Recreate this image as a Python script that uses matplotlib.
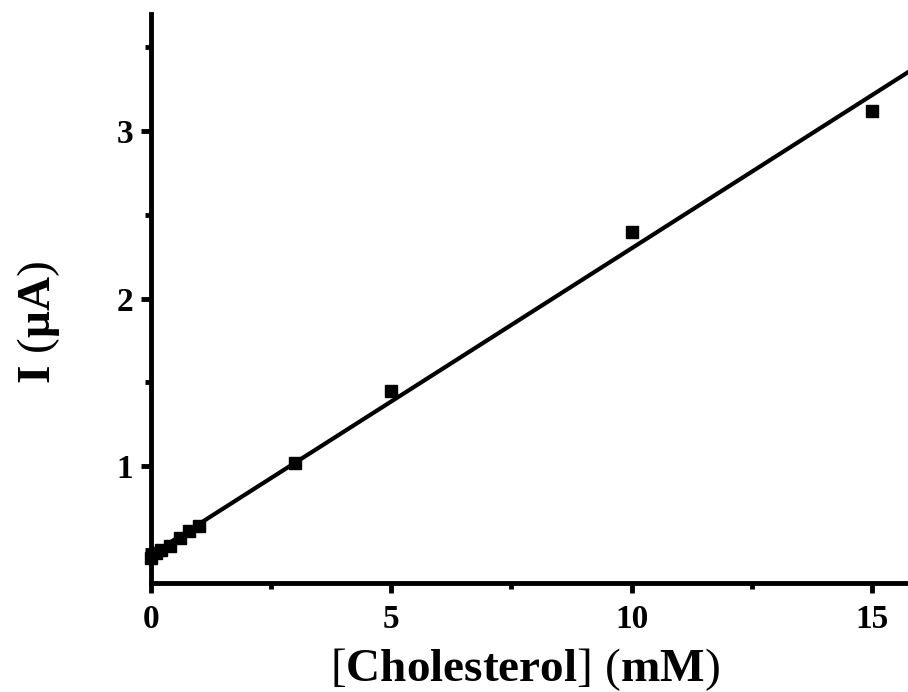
import numpy as np
import matplotlib
matplotlib.use("Agg")
import matplotlib.pyplot as plt
from matplotlib.ticker import MultipleLocator

conc = [0, 0.1, 0.2, 0.4, 0.6, 0.8, 1.0, 3, 5, 10, 15]
current = [0.45, 0.48, 0.50, 0.52, 0.57, 0.61, 0.64, 1.02, 1.45, 2.40, 3.12]
fit_slope = 0.183
fit_intercept = 0.47
xticks = [0, 5, 10, 15]
yticks = [1, 2, 3]

plt.rcParams['font.family'] = ['Liberation Serif', 'DejaVu Serif']
plt.rcParams['font.weight'] = 'bold'
plt.rcParams['mathtext.fontset'] = 'custom'
plt.rcParams['mathtext.rm'] = 'Liberation Serif:normal'
plt.rcParams['mathtext.it'] = 'Liberation Serif:italic'
plt.rcParams['mathtext.bf'] = 'Liberation Serif:bold'

fig = plt.figure(figsize=(9.08, 6.92), dpi=100)
ax = fig.add_axes([151/908, 109/692, 1 - 151/908, (583-14)/692])

xlim = (0, 15.75)
ax.set_xlim(*xlim)
ax.set_ylim(0.3, 3.7)

xl = np.array(xlim)
ax.plot(xl, fit_intercept + fit_slope * xl, color='black', lw=3, zorder=2, clip_on=True)
ax.plot(conc, current, linestyle='none', marker='s', markersize=9,
        color='black', zorder=3, clip_on=False)

for s in ['top', 'right']:
    ax.spines[s].set_visible(False)
for s in ['left', 'bottom']:
    ax.spines[s].set_linewidth(3.5)

ax.set_xticks(xticks)
ax.set_yticks(yticks)
ax.xaxis.set_minor_locator(MultipleLocator(2.5))
ax.yaxis.set_minor_locator(MultipleLocator(0.5))
ax.tick_params(which='major', direction='out', length=7, width=3.5, labelsize=24, pad=8)
ax.tick_params(axis='y', which='major', pad=6)
ax.tick_params(which='minor', direction='out', length=4, width=3.5)
for lab in ax.get_xticklabels() + ax.get_yticklabels():
    lab.set_fontweight('bold')

ax.set_xlabel(r'$\mathrm{[}$Cholesterol$\mathrm{]}\,\,\mathrm{(}$mM$\mathrm{)}$',
              fontsize=34, fontweight='bold')
ax.xaxis.label.set_va('baseline')
ax.xaxis.set_label_coords(0.494, -0.172)
ax.set_ylabel(r'I$\,\,\mathrm{(}$μA$\mathrm{)}$', fontsize=34, fontweight='bold')
ax.yaxis.set_label_coords(-0.118, 0.457)

fig.savefig('out.png', dpi=100)
